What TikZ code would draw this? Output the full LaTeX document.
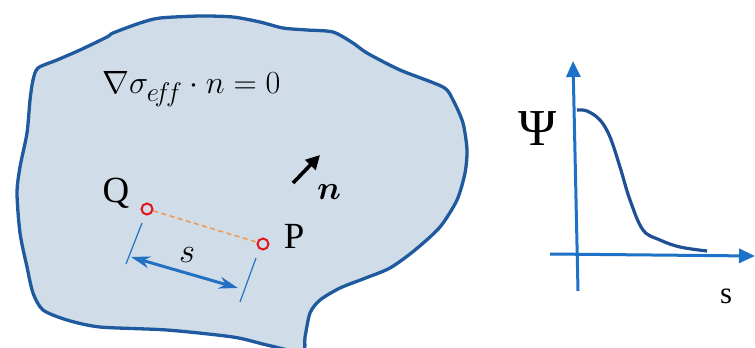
\documentclass[tikz,border=0pt]{standalone}
\usepackage{graphicx}
\usepackage{bm}
\usepackage{fontspec}
\setmainfont{Liberation Serif}
\usetikzlibrary{arrows.meta}
\definecolor{blobfill}{HTML}{D0DDE8}
\definecolor{blobline}{HTML}{1F5A9E}
\definecolor{axisblue}{HTML}{1B72C6}
\definecolor{curveblue}{HTML}{1F4F94}
\definecolor{dimblue}{HTML}{2270C4}
\definecolor{dashorange}{HTML}{F4954A}
\definecolor{ptred}{HTML}{E0161C}
\tikzset{
  ptmark/.style={circle, draw=ptred, fill=blobfill, line width=2bp, minimum size=11bp, inner sep=0pt},
  lbl/.style={inner sep=0pt, text=black},
  dimline/.style={draw=dimblue, line width=1.2bp},
  axisline/.style={draw=axisblue, line width=3bp, -{Triangle[length=16bp,width=14bp]}}
}
\begin{document}
\begin{tikzpicture}[x=1bp,y=-1bp]
\useasboundingbox (0,0) rectangle (755,347);
\begin{scope}
\clip (0,0) rectangle (755,347);
\draw[blobline, line width=3.3bp, fill=blobfill] plot[smooth cycle, tension=0.45] coordinates {
 (33,80) (38,68) (57,60) (80,50) (107,37) (113,33) (140,23) (160,18) (200,16)
 (233,17) (260,22) (283,28) (307,30) (333,32) (353,43) (367,53) (400,70)
 (443,87) (453,100) (463,123) (467,150) (465,173) (457,200) (440,227) (415,250)
 (390,268) (363,279) (340,288) (320,300) (310,313) (305,337) (302,352)
 (267,345) (233,337) (167,330) (100,327) (67,320) (43,310) (33,293) (27,267)
 (20,233) (17,193) (20,167) (27,133) (30,100)};
\end{scope}

% equation
\node[lbl, anchor=west] (eq) at (102,89) {\scalebox{1.3}{\Huge $\nabla\sigma_{e\!f\!f}\cdot n = 0$}};

% points
\node[ptmark] (Q) at (147,209) {};
\node[ptmark] (P) at (263,244) {};
\node[lbl] (Qlbl) at (116,193) {\fontsize{37}{40}\selectfont Q};
\node[lbl] (Plbl) at (294,236) {\fontsize{37}{40}\selectfont P};
\draw[dashorange, line width=1.5bp, dash pattern=on 5bp off 3.5bp] (Q) -- (P);

% dimension
\coordinate (d1a) at (142,223); \coordinate (d1b) at (126,264);
\coordinate (d2a) at (256,258); \coordinate (d2b) at (240,302);
\draw[dimline] (d1a) -- (d1b);
\draw[dimline] (d2a) -- (d2b);
\coordinate (s1) at (131,257); \coordinate (s2) at (238,288);
\draw[dimblue, line width=3bp, {Stealth[length=19bp,width=12bp]}-{Stealth[length=19bp,width=12bp]}] (s1) -- (s2);
\node[lbl] (slbl) at (187,255) {\scalebox{1.4}{\Huge $s$}};

% normal
\coordinate (n1) at (293,183); \coordinate (n2) at (320,155);
\draw[black, line width=3.6bp, -{Triangle[length=14bp,width=14bp]}] (n1) -- (n2);
\node[lbl] (nlbl) at (329,192) {\scalebox{1.35}{\Huge $\bm{n}$}};

% plot
\coordinate (vb) at (578,291); \coordinate (vt) at (573,61);
\coordinate (hl) at (550,254); \coordinate (hr) at (755,256);
\draw[axisline] (vb) -- (vt);
\draw[axisline] (hl) -- (hr);
\draw[curveblue, line width=3.2bp] plot[smooth, tension=0.6] coordinates {
 (577,110) (587,111) (600,120) (610,137) (620,167) (630,200) (643,230) (660,240) (680,247) (707,251)};
\node[lbl] (psi) at (538,129) {\fontsize{52}{56}\selectfont Ψ};
\node[lbl] (saxis) at (726,296) {\fontsize{31}{34}\selectfont s};
\end{tikzpicture}
\end{document}
